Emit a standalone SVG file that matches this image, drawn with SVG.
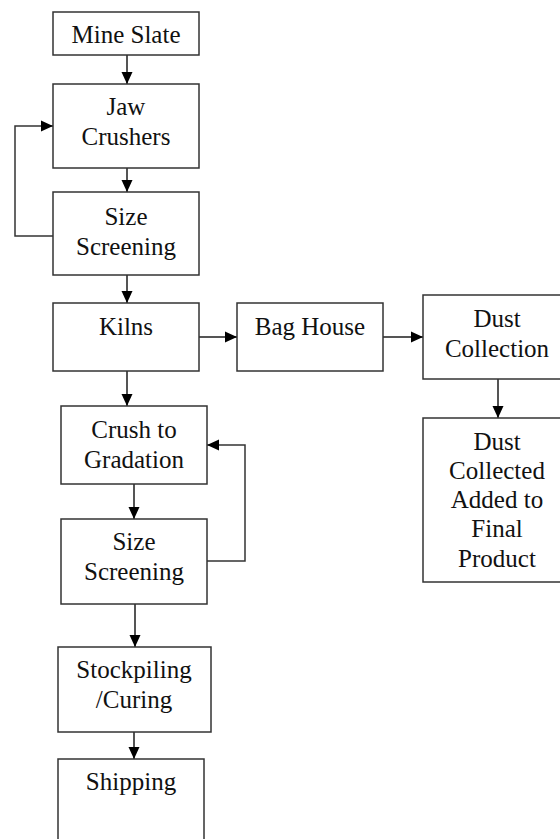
<svg xmlns="http://www.w3.org/2000/svg" width="560" height="839" viewBox="0 0 560 839">
<style>
.box{fill:#fff;stroke:#333;stroke-width:1.5}
text{font-family:'Liberation Serif','DejaVu Serif',serif;font-size:25px;fill:#111;text-anchor:middle}
.c{fill:none;stroke:#555;stroke-width:2}
.loop{fill:none;stroke:#333;stroke-width:1.5}
</style>
<defs>
<marker id="ah" viewBox="0 0 12 12" refX="12" refY="6" markerWidth="12" markerHeight="12" markerUnits="userSpaceOnUse" orient="auto">
<path d="M0,0.5 L12,6 L0,11.5 z" fill="#000"/>
</marker>
</defs>
<rect width="560" height="839" fill="#fff"/>
<g id="connectors">
<line class="c" x1="127" y1="55" x2="127" y2="84" marker-end="url(#ah)"/>
<line class="c" x1="127" y1="168" x2="127" y2="192" marker-end="url(#ah)"/>
<polyline class="loop" points="53,236 15,236 15,126 53,126" marker-end="url(#ah)"/>
<line class="c" x1="127" y1="275" x2="127" y2="303" marker-end="url(#ah)"/>
<line class="c" x1="199" y1="337" x2="237" y2="337" marker-end="url(#ah)"/>
<line class="c" x1="383" y1="337" x2="423" y2="337" marker-end="url(#ah)"/>
<line class="c" x1="498" y1="379" x2="498" y2="418" marker-end="url(#ah)"/>
<line class="c" x1="127" y1="371" x2="127" y2="406" marker-end="url(#ah)"/>
<line class="c" x1="134" y1="484" x2="134" y2="519" marker-end="url(#ah)"/>
<polyline class="loop" points="207,561 245,561 245,445 207,445" marker-end="url(#ah)"/>
<line class="c" x1="135" y1="604" x2="135" y2="647" marker-end="url(#ah)"/>
<line class="c" x1="134" y1="732" x2="134" y2="759" marker-end="url(#ah)"/>
</g>
<g id="mine-slate"><rect class="box" x="53" y="12" width="146" height="43"/><text x="126" y="43">Mine Slate</text></g>
<g id="jaw-crushers"><rect class="box" x="53" y="84" width="146" height="84"/><text x="126" y="115">Jaw</text><text x="126" y="145">Crushers</text></g>
<g id="size-screening-1"><rect class="box" x="53" y="192" width="146" height="83"/><text x="126" y="225">Size</text><text x="126" y="255">Screening</text></g>
<g id="kilns"><rect class="box" x="53" y="303" width="146" height="68"/><text x="126" y="335">Kilns</text></g>
<g id="bag-house"><rect class="box" x="237" y="303" width="146" height="68"/><text x="310" y="335">Bag House</text></g>
<g id="dust-collection"><rect class="box" x="423" y="295" width="150" height="84"/><text x="497" y="327">Dust</text><text x="497" y="357">Collection</text></g>
<g id="dust-collected"><rect class="box" x="423" y="418" width="150" height="164"/><text x="497" y="450">Dust</text><text x="497" y="479">Collected</text><text x="497" y="508">Added to</text><text x="497" y="537">Final</text><text x="497" y="567">Product</text></g>
<g id="crush-to-gradation"><rect class="box" x="61" y="406" width="146" height="78"/><text x="134" y="438">Crush to</text><text x="134" y="468">Gradation</text></g>
<g id="size-screening-2"><rect class="box" x="61" y="519" width="146" height="85"/><text x="134" y="550">Size</text><text x="134" y="580">Screening</text></g>
<g id="stockpiling"><rect class="box" x="58" y="647" width="153" height="85"/><text x="134" y="678">Stockpiling</text><text x="134" y="708">/Curing</text></g>
<g id="shipping"><rect class="box" x="58" y="759" width="146" height="90"/><text x="131" y="790">Shipping</text></g>
</svg>
